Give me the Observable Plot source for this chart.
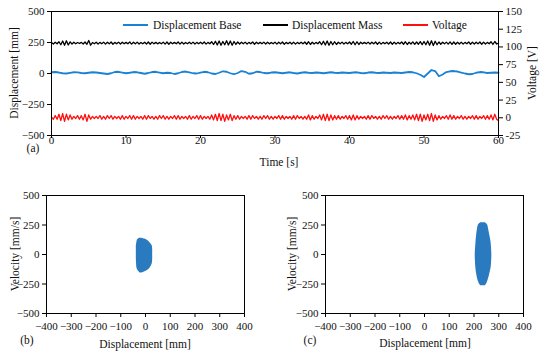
<!DOCTYPE html>
<html><head><meta charset="utf-8">
<script src="https://cdn.jsdelivr.net/npm/d3@7"></script>
<script src="https://cdn.jsdelivr.net/npm/@observablehq/plot@0.6"></script>
<style>
body{margin:0;background:#fff;}
#wrap{position:relative;width:550px;height:355px;font-family:"Liberation Serif","Times New Roman",serif;color:#111;overflow:hidden;}
#wrap svg{position:absolute;left:0;top:0;}
#wrap svg, #wrap svg text{font-family:"Liberation Serif","Times New Roman",serif !important;}
.lbl{position:absolute;font-size:11.5px;line-height:12px;white-space:nowrap;transform:translate(-50%,-50%);}
.lbl.rot{transform:translate(-50%,-50%) rotate(-90deg);}
.leg{position:absolute;font-size:11.5px;line-height:12px;white-space:nowrap;}
.sw{position:absolute;height:0;border-top:2px solid;}
</style></head><body><div id="wrap"></div>
<script>
// ---------- data ----------
const timeTicks = [0, 10, 20, 30, 40, 50, 60];
const dispTicks = [-500, -250, 0, 250, 500];
const voltTicks = [-25, 0, 25, 50, 75, 100, 125, 150];
const phaseXTicks = [-400, -300, -200, -100, 0, 100, 200, 300, 400];
const phaseYTicks = [-500, -250, 0, 250, 500];
const seriesNames = ["Displacement Base", "Displacement Mass", "Voltage"];

// Displacement Base [mm], sampled every 0.5 s
const baseStep = 0.5;
const baseValues = [
  10,12,8,2,0,5,10,9,4,2,
  6,10,8,4,0,-4,2,12,14,8,
  2,6,12,10,4,-2,4,12,14,8,
  2,6,4,-4,2,12,16,10,2,0,
  8,14,10,0,-4,6,18,14,2,-6,
  4,20,14,-2,2,14,12,4,2,8,
  10,6,2,6,10,4,0,6,10,6,
  4,8,6,2,6,10,6,4,8,6,
  4,8,10,4,2,8,10,6,4,8,
  6,4,8,6,4,8,12,10,2,-10,
  -28,0,28,20,-22,-8,12,18,20,16,
  8,0,-6,-4,6,12,10,4,6,8,
  6
];

// Displacement Mass [mm], sampled every 0.25 s
const massStep = 0.25;
const massValues = [
  250,238,252,240, 256,232,262,228, 264,230,255,238, 252,240,250,242, 251,238,254,236,
  266,228,250,240, 252,238,251,240, 253,237,252,239, 254,236,251,240, 253,238,252,239,
  251,240,254,237, 252,239,253,238, 250,240,252,238, 254,236,253,239, 251,239,250,240,
  253,237,254,236, 252,239,251,240, 254,237,253,238, 250,240,252,239, 253,238,251,240,
  252,239,254,237, 251,240,256,234, 260,230,262,228, 258,232,264,230, 262,228,258,234,
  254,238,252,240, 253,238,251,240, 254,236,252,239, 251,240,253,238, 252,239,250,240,
  253,237,252,239, 254,236,251,240, 252,238,253,237, 251,240,252,239, 254,236,256,234,
  252,238,251,240, 256,232,260,230, 262,228,258,232, 256,234,252,240, 253,238,251,239,
  254,236,258,232, 256,234,252,239, 251,240,253,238, 252,239,254,236, 253,237,251,240,
  252,238,254,236, 253,238,251,240, 254,236,256,234, 252,238,255,235, 254,236,257,233,
  258,232,262,228, 264,226,260,232, 254,236,252,239, 253,237,255,235, 254,236,252,238,
  253,237,251,240, 254,236,253,238, 252,239,254,236, 253,238,251,240, 256,234,258,238,
  245
];

// Voltage [V], sampled every 0.25 s
const voltStep = 0.25;
const voltValues = [
  1,-2,3,-2, 5,-4,6,-5, 5,-3,4,-2, 2,-1,3,-2, 3,-3,5,-5,
  4,-2,2,-1, 2,-1,3,-2, 2,-2,3,-1, 3,-2,2,-1, 2,-2,3,-2,
  2,-1,3,-2, 3,-2,2,-1, 2,-2,3,-2, 3,-1,2,-2, 2,-2,3,-1,
  3,-2,2,-2, 2,-1,3,-2, 3,-2,2,-1, 2,-2,3,-2, 2,-1,3,-2,
  3,-2,2,-1, 2,-2,4,-3, 5,-4,6,-4, 5,-5,4,-3, 5,-4,3,-2,
  3,-2,2,-1, 2,-2,3,-2, 3,-1,2,-2, 2,-2,3,-1, 3,-2,2,-2,
  2,-1,3,-2, 3,-2,2,-1, 2,-2,3,-2, 3,-1,2,-2, 2,-2,4,-3,
  3,-2,2,-1, 4,-3,5,-4, 5,-4,4,-3, 3,-2,3,-2, 2,-1,3,-2,
  3,-3,4,-3, 3,-2,2,-1, 2,-2,3,-2, 3,-1,2,-2, 2,-2,3,-1,
  3,-2,2,-2, 2,-1,3,-2, 3,-2,4,-3, 3,-2,4,-3, 5,-4,5,-5,
  4,-3,5,-4, 6,-5,4,-3, 3,-2,2,-1, 3,-2,4,-2, 3,-2,2,-1,
  3,-2,2,-2, 2,-1,3,-2, 3,-2,2,-1, 3,-2,3,-2, 4,-3,5,-2,
  -4
];

// Phase portrait (b): base; outline of the point cloud (velocity, left and right displacement)
const baseCloudVel   = [-157,-145,-130,-110,-80,-40,0,40,75,100,125,137];
const baseCloudLeft  = [-22,-27,-32,-35,-36,-37,-37,-37,-37,-35,-32,-24];
const baseCloudRight = [-14,0,12,20,27,29,29,29,27,18,4,-16];

// Phase portrait (c): mass
const massCloudVel   = [-265,-245,-210,-180,-125,-100,0,100,150,215,250,270];
const massCloudLeft  = [227,221,215,212,208,207,205,208,210,214,218,227];
const massCloudRight = [246,252,258,262,268,270,272,269,265,259,255,246];

// ---------- build ----------
const BLUE = "#1a82d4", CLOUD = "#2a7abf", RED = "#ff1010", BLACK = "#000";
const base = baseValues.map((v, i) => ({t: i * baseStep, v}));
const mass = massValues.map((v, i) => ({t: i * massStep, v}));
const volt = voltValues.map((v, i) => ({t: i * voltStep, v}));
const toDisp = v => (v + 25) / 175 * 1000 - 500;
const fromDisp = d => (d + 500) / 1000 * 175 - 25;
const cloudB = baseCloudVel.map((v, i) => ({v, l: baseCloudLeft[i], r: baseCloudRight[i]}));
const cloudC = massCloudVel.map((v, i) => ({v, l: massCloudLeft[i], r: massCloudRight[i]}));

const FONT = '"Liberation Serif","Times New Roman",serif';
const plotStyle = {fontFamily: FONT, fontSize: "11px", color: "#111", background: "transparent", overflow: "visible"};
const ax = {stroke: "#000", fill: "#111", fontFamily: FONT, fontSize: 11, label: null};
const wrap = document.getElementById("wrap");

const topPlot = Plot.plot({
  width: 550, height: 355,
  marginLeft: 51, marginRight: 52, marginTop: 11, marginBottom: 220,
  style: plotStyle,
  x: {domain: [0, 60]},
  y: {domain: [-500, 500]},
  marks: [
    Plot.line(base, {x: "t", y: "v", stroke: BLUE, strokeWidth: 1.8}),
    Plot.line(mass, {x: "t", y: "v", stroke: BLACK, strokeWidth: 1.3}),
    Plot.line(volt, {x: "t", y: d => toDisp(d.v), stroke: RED, strokeWidth: 1.3}),
    Plot.frame({stroke: "#000", strokeWidth: 1}),
    Plot.axisX(timeTicks, {...ax, tickSize: 3, tickPadding: -2}),
    Plot.axisY(dispTicks, {...ax, anchor: "left", tickSize: 4, tickPadding: 3}),
    Plot.axisY(voltTicks.map(toDisp), {...ax, anchor: "right", tickSize: 4, tickPadding: 3,
      tickFormat: d => String(Math.round(fromDisp(d)))})
  ]
});
wrap.appendChild(topPlot);

function phase(cloud, ml, mr) {
  return Plot.plot({
    width: 550, height: 355,
    marginLeft: ml, marginRight: mr, marginTop: 195, marginBottom: 42,
    style: plotStyle,
    x: {domain: [-400, 400]},
    y: {domain: [-500, 500]},
    marks: [
      Plot.areaX(cloud, {y: "v", x1: "l", x2: "r", fill: CLOUD, curve: "catmull-rom"}),
      Plot.frame({stroke: "#000", strokeWidth: 1}),
      Plot.axisX(phaseXTicks, {...ax, tickSize: 4, tickPadding: 5}),
      Plot.axisY(phaseYTicks, {...ax, anchor: "left", tickSize: 4, tickPadding: 3})
    ]
  });
}
wrap.appendChild(phase(cloudB, 46, 306));
wrap.appendChild(phase(cloudC, 325, 27));

// titles and panel letters
const titles = [
  {t: "Displacement [mm]", x: 14, y: 73, rot: true},
  {t: "Voltage [V]", x: 532, y: 73, rot: true},
  {t: "Time [s]", x: 279, y: 162},
  {t: "(a)", x: 33, y: 148},
  {t: "Velocity [mm/s]", x: 15, y: 254, rot: true},
  {t: "Displacement [mm]", x: 145, y: 344},
  {t: "(b)", x: 27, y: 340},
  {t: "Velocity [mm/s]", x: 292, y: 254, rot: true},
  {t: "Displacement [mm]", x: 425, y: 343},
  {t: "(c)", x: 310, y: 340}
];
for (const d of titles) {
  const el = document.createElement("div");
  el.className = "lbl" + (d.rot ? " rot" : "");
  el.style.left = d.x + "px"; el.style.top = d.y + "px";
  el.textContent = d.t;
  wrap.appendChild(el);
}

// legend
const legendItems = [
  {name: seriesNames[0], color: BLUE, x1: 123, x2: 148, tx: 153},
  {name: seriesNames[1], color: BLACK, x1: 263, x2: 288, tx: 292},
  {name: seriesNames[2], color: RED, x1: 403, x2: 428, tx: 432}
];
for (const l of legendItems) {
  const sw = document.createElement("div");
  sw.className = "sw";
  sw.style.left = l.x1 + "px"; sw.style.width = (l.x2 - l.x1) + "px";
  sw.style.top = "24px"; sw.style.borderTopColor = l.color;
  wrap.appendChild(sw);
  const tx = document.createElement("div");
  tx.className = "leg";
  tx.style.left = l.tx + "px"; tx.style.top = "19px";
  tx.textContent = l.name;
  wrap.appendChild(tx);
}
</script></body></html>
